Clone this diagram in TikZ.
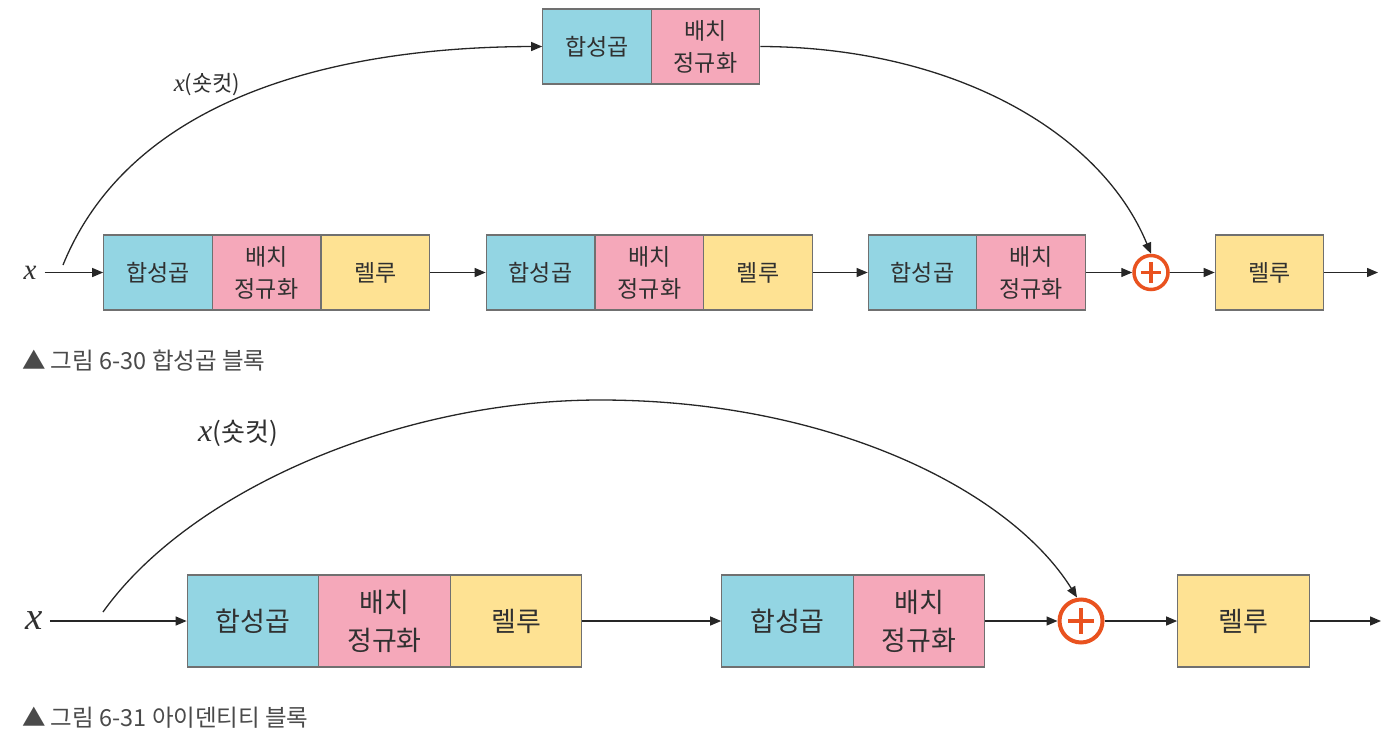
\documentclass[tikz,border=0pt]{standalone}
\usepackage{fontspec}
\newfontfamily\kr{Noto Sans CJK KR}
\newfontfamily\tms{Liberation Serif}
\usetikzlibrary{arrows.meta}
\definecolor{cbox}{HTML}{93D5E3}
\definecolor{pbox}{HTML}{F5A8BA}
\definecolor{ybox}{HTML}{FEE293}
\definecolor{bord}{HTML}{707070}
\definecolor{txt}{HTML}{303030}
\definecolor{plusc}{HTML}{E9521F}
\definecolor{capc}{HTML}{4A4A4A}
\tikzset{
  blk/.style={draw=bord, line width=1.2pt, text=txt, align=center, inner sep=0pt, minimum width=108.5pt, minimum height=75pt, font=\kr\fontsize{23}{32}\selectfont},
  blkb/.style={draw=bord, line width=1.2pt, text=txt, align=center, inner sep=0pt, minimum width=131.5pt, minimum height=92pt, font=\kr\fontsize{27}{38}\selectfont},
  conv/.style={fill=cbox},
  bn/.style={fill=pbox},
  relu/.style={fill=ybox},
  arr/.style={-{Triangle[length=11pt,width=9pt]}, line width=1.3pt, draw=black!85},
  plusnode/.style={circle, draw=plusc, line width=#1, inner sep=0pt, path picture={
      \draw[plusc, line width=#1] ([xshift=-0.6*\pgfkeysvalueof{/pgf/minimum width}/2]path picture bounding box.center) -- ([xshift=0.6*\pgfkeysvalueof{/pgf/minimum width}/2]path picture bounding box.center);
      \draw[plusc, line width=#1] ([yshift=-0.6*\pgfkeysvalueof{/pgf/minimum width}/2]path picture bounding box.center) -- ([yshift=0.6*\pgfkeysvalueof{/pgf/minimum width}/2]path picture bounding box.center);}},
  captext/.style={anchor=west, text=capc, inner sep=0pt, font=\kr\fontsize{23.5}{26}\selectfont},
  xlab/.style={inner sep=0pt, text=txt},
}
\begin{document}
\begin{tikzpicture}[x=1pt,y=-1pt]
\useasboundingbox (0,0) rectangle (1396,736);
% ---------- Figure 6-30 ----------
\node[blk,conv] (tc) at (597,46.5) {합성곱};
\node[blk,bn] (tb) at (705.5,46.5) {배치\\정규화};

\node[xlab, font=\tms\itshape\fontsize{29}{29}\selectfont] (x1) at (30,272.5) {x};
\coordinate (s1) at (63,265);
\node[blk,conv] (a1) at (158,272.5) {합성곱};
\node[blk,bn] (a2) at (266.5,272.5) {배치\\정규화};
\node[blk,relu] (a3) at (375.5,272.5) {렐루};
\node[blk,conv] (b1) at (540.5,272.5) {합성곱};
\node[blk,bn] (b2) at (649.5,272.5) {배치\\정규화};
\node[blk,relu] (b3) at (758,272.5) {렐루};
\node[blk,conv] (c1) at (922.5,272.5) {합성곱};
\node[blk,bn] (c2) at (1031,272.5) {배치\\정규화};
\node[plusnode=3.5pt, minimum size=34pt] (p1) at (1151,272.5) {};
\node[blk,relu] (d1) at (1269.5,272.5) {렐루};
\coordinate (e1) at (1378,272.5);

\draw[arr] ([xshift=8pt]x1.east) -- (a1.west);
\draw[arr] (a3.east) -- (b1.west);
\draw[arr] (b3.east) -- (c1.west);
\draw[arr] (c2.east) -- (p1.west);
\draw[arr] (p1.east) -- (d1.west);
\draw[arr] (d1.east) -- (e1);
\draw[arr] (s1) .. controls (130,100) and (330,47) .. (tc.west);
\draw[arr] (tb.east) .. controls (950,47) and (1100,130) .. (p1.north);
\node[xlab, font=\kr\fontsize{22}{22}\selectfont] (l1) at (207,85) {{\tms\itshape\fontsize{25}{25}\selectfont x}(숏컷)};

\node[captext] (cap1) at (22,361) {▲ 그림 6-30 합성곱 블록};

% ---------- Figure 6-31 ----------
\node[xlab, font=\tms\itshape\fontsize{39}{39}\selectfont] (x2) at (34,621) {x};
\coordinate (s2) at (103,612);
\node[blkb,conv] (f1) at (253,621) {합성곱};
\node[blkb,bn] (f2) at (384.5,621) {배치\\정규화};
\node[blkb,relu] (f3) at (516,621) {렐루};
\node[blkb,conv] (g1) at (787.5,621) {합성곱};
\node[blkb,bn] (g2) at (919,621) {배치\\정규화};
\node[plusnode=4pt, minimum size=43pt] (p2) at (1081,621) {};
\node[blkb,relu] (h1) at (1243.5,621) {렐루};
\coordinate (e2) at (1381,621);

\draw[arr] ([xshift=7pt]x2.east) -- (f1.west);
\draw[arr] (f3.east) -- (g1.west);
\draw[arr] (g2.east) -- (p2.west);
\draw[arr] (p2.east) -- (h1.west);
\draw[arr] (h1.east) -- (e2);
\draw[arr] (s2) .. controls (190,490) and (400,400) .. (600,400) .. controls (830,400) and (1010,490) .. ([xshift=-4pt]p2.north);
\node[xlab, font=\kr\fontsize{26}{26}\selectfont] (l2) at (238,433) {{\tms\itshape\fontsize{32}{32}\selectfont x}(숏컷)};

\node[captext] (cap2) at (22,718) {▲ 그림 6-31 아이덴티티 블록};
\end{tikzpicture}
\end{document}
